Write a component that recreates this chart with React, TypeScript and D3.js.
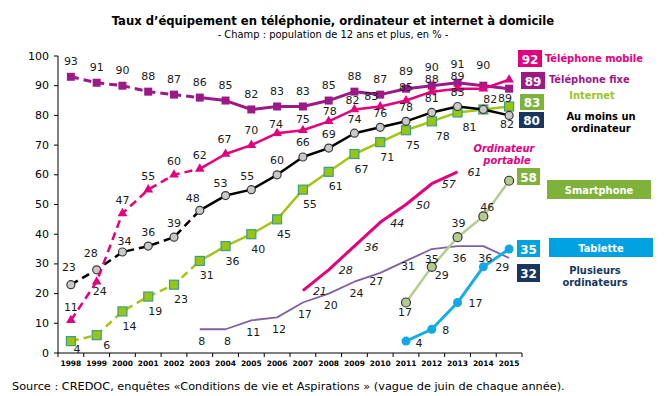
import * as d3 from "d3";

const years = [
  "1998", "1999", "2000", "2001", "2002", "2003", "2004", "2005", "2006",
  "2007", "2008", "2009", "2010", "2011", "2012", "2013", "2014", "2015",
];
const yTicks = [0, 10, 20, 30, 40, 50, 60, 70, 80, 90, 100];

type V = number | null;
const telFixe: V[] = [93, 91, 90, 88, 87, 86, 85, 82, 83, 83, 85, 88, 87, 89, 90, 91, 90, 89];
const telMobile: V[] = [11, 24, 47, 55, 60, 62, 67, 70, 74, 75, 78, 82, 83, 85, 88, 89, 89, 92];
const internet: V[] = [4, 6, 14, 19, 23, 31, 36, 40, 45, 55, 61, 67, 71, 75, 78, 81, 82, 83];
const ordinateur: V[] = [23, 28, 34, 36, 39, 48, 53, 55, 60, 66, 69, 74, 76, 78, 81, 83, 82, 80];
const portable: V[] = [null, null, null, null, null, null, null, null, null, 21, 28, 36, 44, 50, 57, 61, null, null];
const plusieurs: V[] = [null, null, null, null, null, 8, 8, 11, 12, 17, 20, 24, 27, 31, 35, 36, 36, 32];
const smartphone: V[] = [null, null, null, null, null, null, null, null, null, null, null, null, null, 17, 29, 39, 46, 58];
const tablette: V[] = [null, null, null, null, null, null, null, null, null, null, null, null, null, 4, 8, 17, 29, 35];
// the picture prints "82" next to the last point of "au moins un ordinateur"
const ordinateurLabels = ordinateur.map((v, i) => (i === 17 ? "82" : String(v)));

const FONT = "'DejaVu Sans', Verdana, sans-serif";
const FONT_C = "'DejaVu Sans Condensed', 'DejaVu Sans', sans-serif";

const x = d3.scaleBand<string>().domain(years).range([58, 522]);
const y = d3.scaleLinear().domain([0, 100]).range([353, 56]);
const cx = (i: number) => (x(years[i]) ?? 0) + x.bandwidth() / 2;

type Series = {
  values: V[];
  labels?: string[];
  color: string;
  width: number;
  dashUntil: number;
  marker: "square" | "triangle" | "circle" | "none";
  mSize: number;
  mFill?: string;
  mStroke?: string;
  off: [number, number];
  over?: Record<number, [number, number]>;
  skip?: number[];
  italic?: boolean;
};

const series: Series[] = [
  {
    values: plusieurs, color: "#7e61a3", width: 1.8, dashUntil: -1, marker: "none", mSize: 0,
    off: [2, 12], over: { 12: [-4, 9], 13: [2, 6], 14: [0, 10] }, skip: [17],
  },
  {
    values: portable, color: "#e4007c", width: 3, dashUntil: -1, marker: "none", mSize: 0,
    off: [17, 1], italic: true,
  },
  {
    values: internet, color: "#a3c614", width: 2.5, dashUntil: 5, marker: "square", mSize: 9,
    mFill: "#96c60f", mStroke: "#3f9c8c", off: [7, 15], over: { 0: [6, 8], 1: [10, 10], 14: [11, 15], 15: [12, 15] },
    skip: [16, 17],
  },
  {
    values: ordinateur, labels: ordinateurLabels, color: "#000000", width: 2.5, dashUntil: 5, marker: "circle", mSize: 4,
    mFill: "#c9c9c9", mStroke: "#3a3a3a", off: [0, -14],
    over: { 0: [-2, -17], 1: [-6, -16], 2: [2, -11], 5: [-7, -12], 6: [-5, -12], 7: [-4, -13], 16: [7, -10], 17: [-2, 9] },
  },
  {
    values: telFixe, color: "#9c1a87", width: 3, dashUntil: 5, marker: "square", mSize: 8,
    mFill: "#9c1a87", off: [0, -15], over: { 13: [0, -17], 14: [0, -18], 15: [0, -18], 16: [0, -20], 17: [-4, 10] },
  },
  {
    values: telMobile, color: "#e4007c", width: 2.5, dashUntil: 5, marker: "triangle", mSize: 40,
    mFill: "#e4007c", off: [0, -13],
    over: { 1: [3, 10], 6: [-1, -15], 7: [0, -15], 8: [-1, -9], 9: [0, -11], 10: [1, -10], 11: [-2, -9], 12: [-9, -10], 13: [0, -13], 14: [0, -12], 15: [0, -12] },
    skip: [16, 17],
  },
  {
    values: smartphone, color: "#b3cb8f", width: 2.5, dashUntil: -1, marker: "circle", mSize: 4.5,
    mFill: "#b3cb8f", mStroke: "#333333", off: [0, -14],
    over: { 13: [-1, 10], 14: [10, 9], 15: [1, -14], 16: [4, -9] }, skip: [17],
  },
  {
    values: tablette, color: "#12aee8", width: 3, dashUntil: -1, marker: "circle", mSize: 4.5,
    mFill: "#12a8e4", off: [15, 1], over: { 13: [13, 2], 14: [14, 1], 15: [18, 1], 16: [19, 1] }, skip: [17],
  },
];

function pathFor(vals: V[], from: number, to: number) {
  const pts = vals
    .map((v, i) => [i, v] as [number, V])
    .filter((p) => p[1] != null && p[0] >= from && p[0] <= to) as [number, number][];
  if (pts.length < 2) return null;
  return d3
    .line<[number, number]>()
    .x((d) => cx(d[0]))
    .y((d) => y(d[1]))(pts);
}

const triangle = d3.symbol(d3.symbolTriangle);

function SeriesMarks({ s }: { s: Series }) {
  const dashed = s.dashUntil > 0 ? pathFor(s.values, 0, s.dashUntil) : null;
  const solid = pathFor(s.values, Math.max(s.dashUntil, 0), 17);
  return (
    <g>
      {dashed && (
        <path d={dashed} fill="none" stroke={s.color} strokeWidth={s.width} strokeDasharray="8,5" />
      )}
      {solid && <path d={solid} fill="none" stroke={s.color} strokeWidth={s.width} strokeLinejoin="round" />}
      {s.values.map((v, i) => {
        if (v == null) return null;
        const px = cx(i);
        const py = y(v);
        if (s.marker === "square")
          return (
            <rect key={i} x={px - s.mSize / 2} y={py - s.mSize / 2} width={s.mSize} height={s.mSize}
              fill={s.mFill} stroke={s.mStroke ?? "none"} strokeWidth={1.2} />
          );
        if (s.marker === "triangle")
          return <path key={i} d={triangle.size(s.mSize)() ?? ""} transform={`translate(${px},${py})`} fill={s.mFill} />;
        if (s.marker === "circle")
          return <circle key={i} cx={px} cy={py} r={s.mSize} fill={s.mFill} stroke={s.mStroke ?? "none"} strokeWidth={1.2} />;
        return null;
      })}
    </g>
  );
}

function SeriesLabels({ s }: { s: Series }) {
  return (
    <g fontFamily={FONT} fontSize={11} fill="#1a1a1a" fontStyle={s.italic ? "italic" : "normal"}
      textAnchor="middle" dominantBaseline="central">
      {s.values.map((v, i) => {
        if (v == null || s.skip?.includes(i)) return null;
        const [dx, dy] = s.over?.[i] ?? s.off;
        return (
          <text key={i} x={cx(i) + dx} y={y(v) + dy}>
            {s.labels ? s.labels[i] : v}
          </text>
        );
      })}
    </g>
  );
}

function ValueBox({ x0, y0, w, h, fill, text }: { x0: number; y0: number; w: number; h: number; fill: string; text: string }) {
  return (
    <g>
      <rect x={x0} y={y0} width={w} height={h} fill={fill} />
      <text x={x0 + w / 2} y={y0 + h / 2 + 1} textAnchor="middle" dominantBaseline="central"
        fontFamily={FONT} fontWeight="bold" fontSize={12} fill="#ffffff">
        {text}
      </text>
    </g>
  );
}

export default function App() {
  const boundaries = [...years.map((yr) => x(yr) ?? 0), 522];
  return (
    <svg width={671} height={396} style={{ position: "absolute", left: 0, top: 0, background: "#fff" }}>
      <text x={333} y={25} textAnchor="middle" fontFamily={FONT_C} fontWeight="bold" fontSize={12.9} fill="#000">
        Taux d’équipement en téléphonie, ordinateur et internet à domicile
      </text>
      <text x={333} y={38} textAnchor="middle" fontFamily={FONT_C} fontSize={11} fill="#000">
        - Champ : population de 12 ans et plus, en % -
      </text>

      {/* axes */}
      <line x1={58} x2={58} y1={56} y2={353} stroke="#000" />
      <line x1={58} x2={522} y1={353} y2={353} stroke="#000" />
      {yTicks.map((t) => (
        <g key={t}>
          <line x1={54} x2={58} y1={y(t)} y2={y(t)} stroke="#000" />
          <text x={49} y={y(t)} textAnchor="end" dominantBaseline="central" fontFamily={FONT} fontSize={11} fill="#000">
            {t}
          </text>
        </g>
      ))}
      {boundaries.map((b, i) => (
        <line key={i} x1={b} x2={b} y1={353} y2={357} stroke="#000" />
      ))}
      {years.map((yr, i) => (
        <text key={yr} x={cx(i)} y={363} textAnchor="middle" dominantBaseline="central" fontFamily={FONT}
          fontWeight="bold" fontSize={7.5} fill="#000">
          {yr}
        </text>
      ))}

      {series.map((s, i) => (
        <SeriesMarks key={i} s={s} />
      ))}
      {series.map((s, i) => (
        <SeriesLabels key={i} s={s} />
      ))}

      {/* legend */}
      <ValueBox x0={518} y0={50} w={24} h={17} fill="#e4007c" text="92" />
      <text x={545} y={58} dominantBaseline="central" fontFamily={FONT_C} fontWeight="bold" fontSize={11} fill="#e4007c">
        Téléphone mobile
      </text>
      <ValueBox x0={521} y0={72} w={24} h={17} fill="#9c1a87" text="89" />
      <text x={549} y={79} dominantBaseline="central" fontFamily={FONT_C} fontWeight="bold" fontSize={11} fill="#9c1a87">
        Téléphone fixe
      </text>
      <text x={592} y={95} textAnchor="middle" dominantBaseline="central" fontFamily={FONT_C} fontWeight="bold"
        fontSize={11} fill="#9cc41c">
        Internet
      </text>
      <ValueBox x0={520} y0={94} w={24} h={16} fill="#7fb23a" text="83" />
      <ValueBox x0={519} y0={112} w={25} h={16} fill="#17375e" text="80" />
      <text x={601} y={116} textAnchor="middle" dominantBaseline="central" fontFamily={FONT_C} fontWeight="bold"
        fontSize={11} fill="#000">
        Au moins un
      </text>
      <text x={601} y={128} textAnchor="middle" dominantBaseline="central" fontFamily={FONT_C} fontWeight="bold"
        fontSize={11} fill="#000">
        ordinateur
      </text>
      <text x={504} y={148} textAnchor="middle" dominantBaseline="central" fontFamily={FONT_C} fontWeight="bold"
        fontStyle="italic" fontSize={11} fill="#e4007c">
        Ordinateur
      </text>
      <text x={507} y={160} textAnchor="middle" dominantBaseline="central" fontFamily={FONT_C} fontWeight="bold"
        fontStyle="italic" fontSize={11} fill="#e4007c">
        portable
      </text>
      <ValueBox x0={517} y0={168} w={23} h={17} fill="#7fb23a" text="58" />
      <rect x={547} y={180} width={104} height={19} fill="#7fb23a" />
      <text x={599} y={190} textAnchor="middle" dominantBaseline="central" fontFamily={FONT_C} fontWeight="bold"
        fontSize={11} fill="#fff">
        Smartphone
      </text>
      <ValueBox x0={517} y0={240} w={23} h={17} fill="#00a1e0" text="35" />
      <rect x={549} y={238} width={104} height={19} fill="#00a1e0" />
      <text x={601} y={248} textAnchor="middle" dominantBaseline="central" fontFamily={FONT_C} fontWeight="bold"
        fontSize={11} fill="#fff">
        Tablette
      </text>
      <ValueBox x0={517} y0={264} w={23} h={18} fill="#17375e" text="32" />
      <text x={595} y={270} textAnchor="middle" dominantBaseline="central" fontFamily={FONT_C} fontWeight="bold"
        fontSize={11} fill="#17375e">
        Plusieurs
      </text>
      <text x={595} y={282} textAnchor="middle" dominantBaseline="central" fontFamily={FONT_C} fontWeight="bold"
        fontSize={11} fill="#17375e">
        ordinateurs
      </text>

      <text x={12} y={390} fontFamily={FONT} fontSize={11.3} fill="#000">
        Source : CREDOC, enquêtes «Conditions de vie et Aspirations » (vague de juin de chaque année).
      </text>
    </svg>
  );
}
